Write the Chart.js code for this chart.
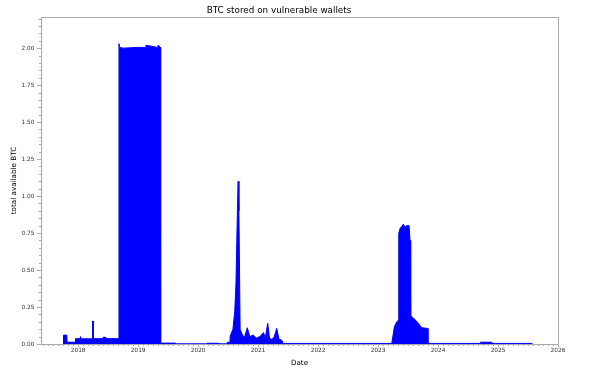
<!DOCTYPE html>
<html>
<head>
<meta charset="utf-8">
<script src="https://cdn.jsdelivr.net/npm/chart.js@4/dist/chart.umd.min.js"></script>
<style>
  html, body { margin: 0; padding: 0; background: #fff; }
  #wrap { width: 600px; height: 369px; }
</style>
</head>
<body>
<div id="wrap"><canvas id="btcChart"></canvas></div>
<script>
// dates as decimal years (upper envelope of the dense signal)
const dates = [
    2017.75, 2017.755, 2017.81, 2017.815, 2017.95, 2017.955, 2018.03, 2018.04, 2018.05,
    2018.235, 2018.24, 2018.25, 2018.255, 2018.41, 2018.42, 2018.45, 2018.46, 2018.675,
    2018.68, 2018.69, 2018.75, 2019.0, 2019.12, 2019.13, 2019.32, 2019.33, 2019.37,
    2019.375, 2019.62, 2019.625, 2020.14, 2020.145, 2020.34, 2020.345, 2020.48, 2020.485,
    2020.53, 2020.535, 2020.58, 2020.61, 2020.63, 2020.645, 2020.66, 2020.667, 2020.68,
    2020.69, 2020.70, 2020.73, 2020.77, 2020.82, 2020.86, 2020.92, 2020.97, 2021.03,
    2021.09, 2021.12, 2021.16, 2021.19, 2021.23, 2021.27, 2021.31, 2021.35, 2021.38,
    2021.40, 2021.405, 2023.228, 2023.25, 2023.272, 2023.311, 2023.339, 2023.345,
    2023.367, 2023.394, 2023.422, 2023.45, 2023.478, 2023.517, 2023.533, 2023.544,
    2023.589, 2023.65, 2023.728, 2023.828, 2023.832, 2024.70, 2024.705, 2024.89,
    2024.895, 2025.56, 2025.565
];
const btc = [
    0, 0.06, 0.06, 0.012, 0.012, 0.036, 0.036, 0.05, 0.035,
    0.035, 0.155, 0.155, 0.036, 0.036, 0.046, 0.046, 0.036, 0.036,
    2.03, 2.005, 2.0, 2.005, 2.005, 2.02, 2.005, 2.02, 2.005,
    0.006, 0.006, 0.001, 0.001, 0.005, 0.005, 0.001, 0.001, 0.012,
    0.012, 0.055, 0.1, 0.22, 0.4, 0.7, 1.0, 1.10, 0.9,
    0.5, 0.1, 0.07, 0.04, 0.11, 0.05, 0.06, 0.04, 0.05,
    0.077, 0.04, 0.14, 0.04, 0.03, 0.05, 0.106, 0.03, 0.03,
    0.02, 0.004, 0.004, 0.06, 0.117, 0.15, 0.16, 0.75,
    0.78, 0.795, 0.81, 0.79, 0.80, 0.80, 0.70, 0.19,
    0.175, 0.15, 0.11, 0.105, 0.004, 0.004, 0.012, 0.012,
    0.004, 0.004, 0
];
const yearTicks = [2018, 2019, 2020, 2021, 2022, 2023, 2024, 2025, 2026];
const btcTicks = [0, 0.25, 0.5, 0.75, 1.0, 1.25, 1.5, 1.75, 2.0];

const points = dates.map((d, i) => ({ x: d, y: btc[i] }));

const tickFont = { family: 'DejaVu Sans', size: 5.8 };
const labelFont = { family: 'DejaVu Sans', size: 7.2 };

// frame + minor ticks, matplotlib style
const framePlugin = {
    id: 'frame',
    afterDraw(chart) {
        const ctx = chart.ctx;
        const a = chart.chartArea;
        const xs = chart.scales.x, ys = chart.scales.y;
        ctx.save();
        ctx.strokeStyle = '#aaa';
        ctx.lineWidth = 1;
        ctx.strokeRect(Math.round(a.left) + 0.5, Math.round(a.top) + 0.5,
            Math.round(a.right - a.left), Math.round(a.bottom - a.top));
        ctx.beginPath();
        for (let v = 0.05; v < ys.max; v += 0.05) {
            if (Math.abs(v / 0.25 - Math.round(v / 0.25)) < 1e-6) continue;
            const py = Math.round(ys.getPixelForValue(v)) + 0.5;
            ctx.moveTo(a.left - 2, py);
            ctx.lineTo(a.left, py);
        }
        for (let y = 2017; y < 2026; y++) {
            for (let m = 1; m < 12; m++) {
                const v = y + m / 12;
                if (v < xs.min || v > xs.max) continue;
                const px = Math.round(xs.getPixelForValue(v)) + 0.5;
                ctx.moveTo(px, a.bottom);
                ctx.lineTo(px, a.bottom + 2);
            }
        }
        ctx.stroke();
        ctx.restore();
    }
};

const ctx = document.getElementById('btcChart').getContext('2d');
const btcChart = new Chart(ctx, {
    type: 'line',
    data: {
        datasets: [{
            label: 'total available BTC',
            data: points,
            borderColor: '#0000ff',
            backgroundColor: '#0000ff',
            borderWidth: 1,
            fill: 'origin',
            pointRadius: 0,
            tension: 0
        }]
    },
    options: {
        responsive: true,
        maintainAspectRatio: false,
        animation: false,
        layout: { padding: { left: 0, right: 42, top: 0, bottom: 0 } },
        plugins: {
            legend: { display: false },
            tooltip: { enabled: false },
            title: {
                display: true,
                text: 'BTC stored on vulnerable wallets',
                color: '#000',
                font: { family: 'DejaVu Sans', size: 8.8, weight: 'normal' },
                padding: { top: 5.5, bottom: 1 }
            }
        },
        scales: {
            x: {
                type: 'linear',
                min: 2017.38,
                max: 2026,
                afterBuildTicks: s => { s.ticks = yearTicks.map(v => ({ value: v })); },
                afterFit: s => { s.height = 25; },
                grid: { drawOnChartArea: false, tickLength: 3, color: '#aaa' },
                border: { color: '#aaa' },
                ticks: {
                    autoSkip: false,
                    maxRotation: 0,
                    padding: 0,
                    color: '#333',
                    font: tickFont,
                    callback: v => String(v)
                },
                title: {
                    display: true,
                    text: 'Date',
                    color: '#000',
                    font: labelFont,
                    padding: { top: 0, bottom: 2 }
                }
            },
            y: {
                min: 0,
                max: 2.21,
                afterBuildTicks: s => { s.ticks = btcTicks.map(v => ({ value: v })); },
                afterFit: s => { s.width = 41; },
                grid: { drawOnChartArea: false, tickLength: 4, color: '#aaa' },
                border: { color: '#aaa' },
                ticks: {
                    autoSkip: false,
                    padding: 2.5,
                    color: '#333',
                    font: tickFont,
                    callback: v => Number(v).toFixed(2)
                },
                title: {
                    display: true,
                    text: 'total available BTC',
                    color: '#000',
                    font: labelFont,
                    padding: { top: 9.7, bottom: 0 }
                }
            }
        }
    },
    plugins: [framePlugin]
});
</script>
</body>
</html>
